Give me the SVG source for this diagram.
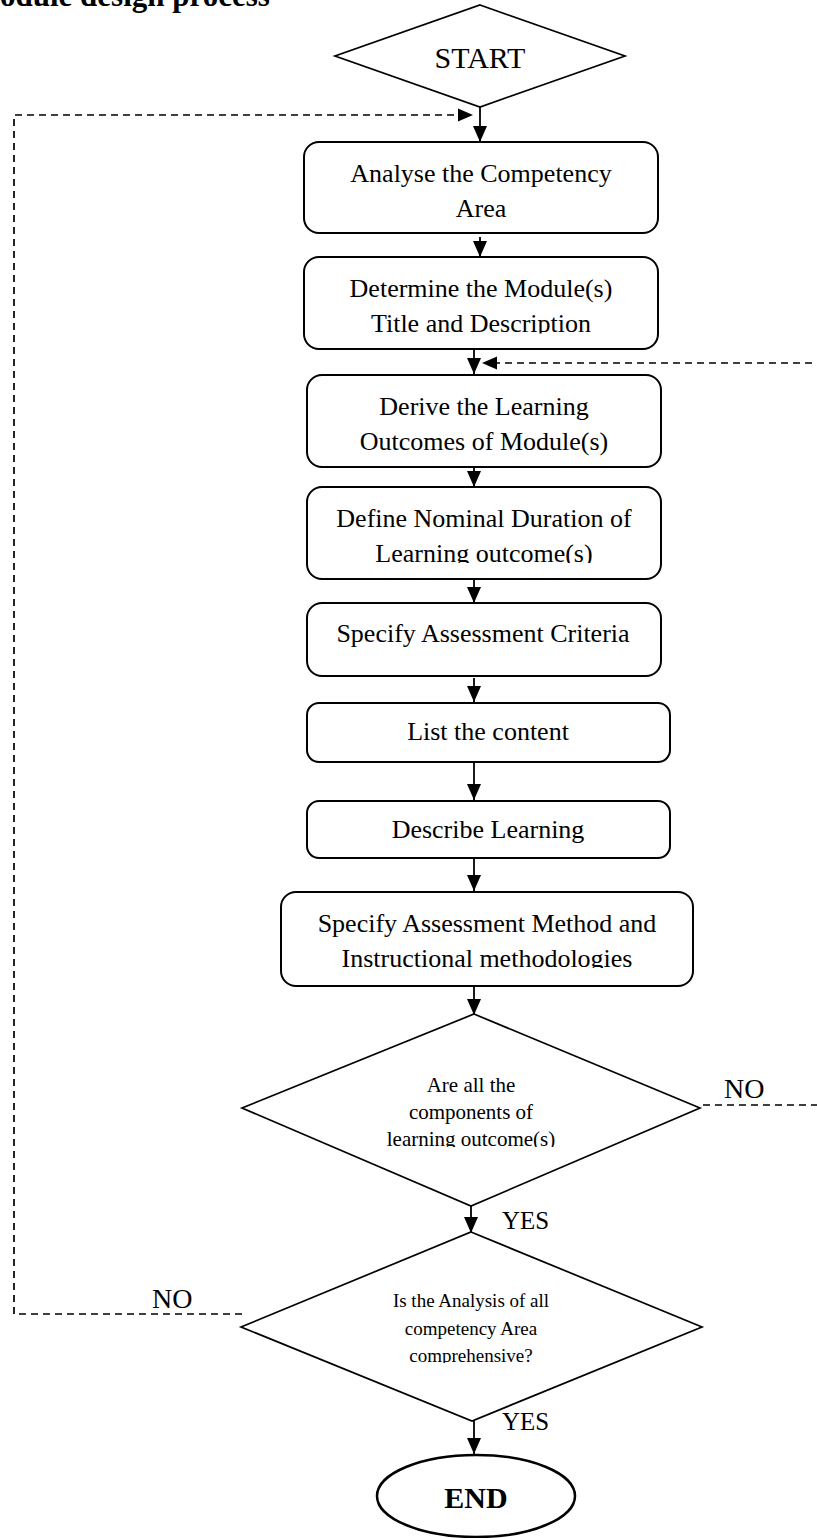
<svg xmlns="http://www.w3.org/2000/svg" width="817" height="1538" viewBox="0 0 817 1538">
  <style>
    .txt { font-family: "Liberation Serif", "Times New Roman", serif; fill: #000; text-anchor: middle; }
    .box { fill: #fff; stroke: #000; stroke-width: 2; }
    .dia { fill: #fff; stroke: #000; stroke-width: 1.7; }
    .flow { fill: none; stroke: #000; stroke-width: 1.8; marker-end: url(#head); }
    .loop { fill: none; stroke: #000; stroke-width: 1.7; stroke-dasharray: 7 5; }
    .lbl { font-family: "Liberation Serif", "Times New Roman", serif; fill: #000; }
  </style>
  <defs>
    <marker id="head" markerUnits="userSpaceOnUse" markerWidth="16" markerHeight="14" viewBox="0 0 16 14" refX="16" refY="7" orient="auto">
      <path d="M0,0 L16,7 L0,14 z" fill="#000"/>
    </marker>
    <clipPath id="clipDetermine" clipPathUnits="userSpaceOnUse"><rect x="300" y="300" width="370" height="33.5"/></clipPath>
    <clipPath id="clipDefine" clipPathUnits="userSpaceOnUse"><rect x="300" y="530" width="370" height="33"/></clipPath>
    <clipPath id="clipMethod" clipPathUnits="userSpaceOnUse"><rect x="270" y="935" width="430" height="33"/></clipPath>
    <clipPath id="clipQ1" clipPathUnits="userSpaceOnUse"><rect x="300" y="1122" width="340" height="25"/></clipPath>
    <clipPath id="clipQ2" clipPathUnits="userSpaceOnUse"><rect x="300" y="1338" width="340" height="25"/></clipPath>
  </defs>

  <rect width="817" height="1538" fill="#fff"/>

  <!-- heading, partly cut off by the top edge -->
  <text class="lbl" x="0" y="6" font-size="31" font-weight="bold">odule design process</text>

  <g id="connectors">
    <line class="flow" x1="480" y1="107" x2="480" y2="142"/>
    <line class="flow" x1="480" y1="237" x2="480" y2="257"/>
    <line class="flow" x1="474" y1="349" x2="474" y2="374"/>
    <line class="flow" x1="474" y1="467" x2="474" y2="487"/>
    <line class="flow" x1="474" y1="579" x2="474" y2="603"/>
    <line class="flow" x1="474" y1="678" x2="474" y2="702"/>
    <line class="flow" x1="474" y1="762" x2="474" y2="800"/>
    <line class="flow" x1="474" y1="858" x2="474" y2="891"/>
    <line class="flow" x1="474" y1="982" x2="474" y2="1015"/>
    <line class="flow" x1="471" y1="1206" x2="471" y2="1233"/>
    <line class="flow" x1="474" y1="1421" x2="474" y2="1454"/>

    <!-- NO branch of the second decision back to the top -->
    <polyline class="loop" points="242,1314 14,1314 14,115 460,115"/>
    <path d="M458,108.5 L473,115 L458,121.5 z" fill="#000"/>

    <!-- NO branch of the first decision back to the learning outcomes -->
    <line class="loop" x1="703" y1="1105" x2="817" y2="1105"/>
    <line class="loop" x1="812" y1="363" x2="495" y2="363"/>
    <path d="M497,356.5 L482,363 L497,369.5 z" fill="#000"/>
  </g>

  <g id="start">
    <polygon class="dia" points="480,5 625,56 480,107 335,56"/>
    <text class="txt" x="480" y="68" font-size="30">START</text>
  </g>

  <g id="analyse">
    <rect class="box" x="304" y="142" width="354" height="91" rx="15"/>
    <text class="txt" x="481" y="182" font-size="26">Analyse the Competency</text>
    <text class="txt" x="481" y="217" font-size="26">Area</text>
  </g>

  <g id="determine">
    <rect class="box" x="304" y="257" width="354" height="92" rx="15"/>
    <text class="txt" x="481" y="297" font-size="26">Determine the Module(s)</text>
    <text class="txt" x="481" y="332" font-size="26" clip-path="url(#clipDetermine)">Title and Description</text>
  </g>

  <g id="derive">
    <rect class="box" x="307" y="375" width="354" height="92" rx="15"/>
    <text class="txt" x="484" y="415" font-size="26">Derive the Learning</text>
    <text class="txt" x="484" y="450" font-size="26">Outcomes of Module(s)</text>
  </g>

  <g id="define">
    <rect class="box" x="307" y="487" width="354" height="92" rx="15"/>
    <text class="txt" x="484" y="527" font-size="26">Define Nominal Duration of</text>
    <text class="txt" x="484" y="562" font-size="26" clip-path="url(#clipDefine)">Learning outcome(s)</text>
  </g>

  <g id="criteria">
    <rect class="box" x="307" y="603" width="354" height="73" rx="15"/>
    <text class="txt" x="483" y="642" font-size="26">Specify Assessment Criteria</text>
  </g>

  <g id="content">
    <rect class="box" x="307" y="703" width="363" height="59" rx="12"/>
    <text class="txt" x="488" y="740" font-size="26">List the content</text>
  </g>

  <g id="describe">
    <rect class="box" x="307" y="801" width="363" height="57" rx="12"/>
    <text class="txt" x="488" y="838" font-size="26">Describe Learning</text>
  </g>

  <g id="method">
    <rect class="box" x="281" y="892" width="412" height="94" rx="15"/>
    <text class="txt" x="487" y="932" font-size="26">Specify Assessment Method and</text>
    <text class="txt" x="487" y="967" font-size="26" clip-path="url(#clipMethod)">Instructional methodologies</text>
  </g>

  <g id="check-components">
    <polygon class="dia" points="474,1014 700,1108 471,1206 242,1108"/>
    <text class="txt" x="471" y="1092" font-size="21">Are all the</text>
    <text class="txt" x="471" y="1119" font-size="21">components of</text>
    <text class="txt" x="471" y="1146" font-size="21" clip-path="url(#clipQ1)">learning outcome(s)</text>
    <text class="lbl" x="724" y="1098" font-size="28">NO</text>
    <text class="lbl" x="502" y="1229" font-size="26" textLength="47" lengthAdjust="spacingAndGlyphs">YES</text>
  </g>

  <g id="check-analysis">
    <polygon class="dia" points="471,1232 702,1327 472,1421 241,1327"/>
    <text class="txt" x="471" y="1307" font-size="19">Is the Analysis of all</text>
    <text class="txt" x="471" y="1335" font-size="19">competency Area</text>
    <text class="txt" x="471" y="1362" font-size="19" clip-path="url(#clipQ2)">comprehensive?</text>
    <text class="lbl" x="152" y="1308" font-size="28">NO</text>
    <text class="lbl" x="502" y="1430" font-size="26" textLength="47" lengthAdjust="spacingAndGlyphs">YES</text>
  </g>

  <g id="end">
    <ellipse cx="476" cy="1496" rx="99" ry="41" fill="#fff" stroke="#000" stroke-width="2.5"/>
    <text class="txt" x="476" y="1508" font-size="30" font-weight="bold">END</text>
  </g>
</svg>
